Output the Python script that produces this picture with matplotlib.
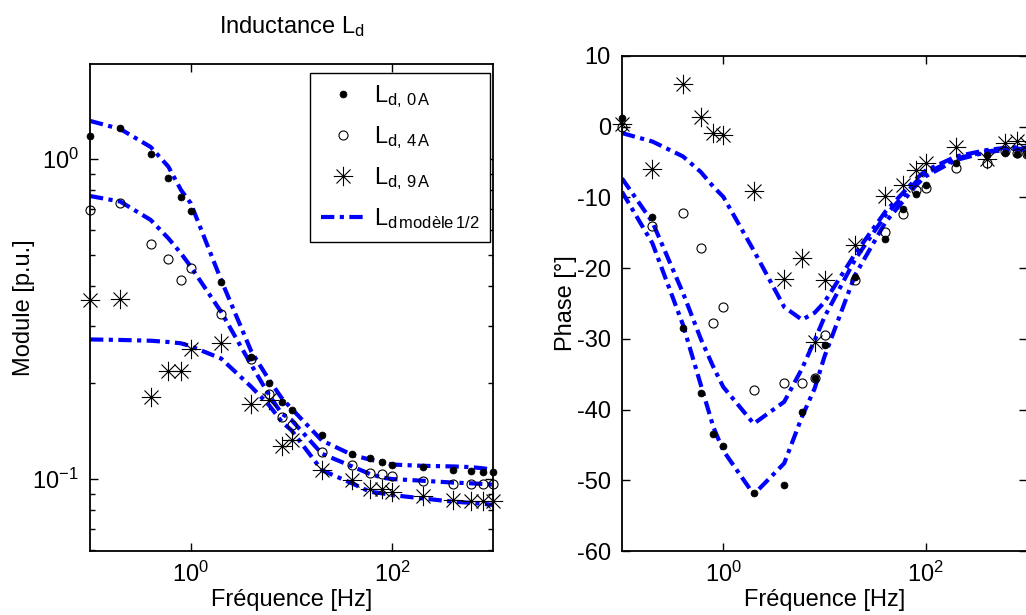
import matplotlib
matplotlib.use("Agg")
import matplotlib.pyplot as plt
from matplotlib.path import Path
from matplotlib.ticker import FixedLocator, FixedFormatter, LogLocator, NullFormatter

plt.rcParams['font.family'] = ['Liberation Sans', 'DejaVu Sans']
plt.rcParams['mathtext.fontset'] = 'custom'
plt.rcParams['mathtext.rm'] = 'Liberation Sans'
plt.rcParams['mathtext.it'] = 'Liberation Sans:italic'
plt.rcParams['mathtext.bf'] = 'Liberation Sans:bold'
plt.rcParams['axes.unicode_minus'] = False

# ---------------- data ----------------
freq = [0.1, 0.2, 0.4, 0.6, 0.8, 1, 2, 4, 6, 8, 10, 20, 40, 60, 80, 100, 200, 400, 600, 800, 1000]

# module [p.u.] measured
mod_0A = [1.18, 1.25, 1.04, 0.87, 0.76, 0.69, 0.414, 0.241, 0.200, 0.174, 0.164, 0.137,
          0.120, 0.116, 0.113, 0.111, 0.109, 0.107, 0.106, 0.105, 0.105]
mod_4A = [0.693, 0.727, 0.541, 0.487, 0.419, 0.455, 0.327, 0.238, 0.185, 0.156, 0.1475, 0.1217,
          0.1106, 0.1047, 0.1037, 0.102, 0.0988, 0.0965, 0.0965, 0.0965, 0.0965]
mod_9A = [0.363, 0.365, 0.181, 0.2176, 0.2176, 0.254, 0.267, 0.172, 0.177, 0.127, 0.132, 0.107,
          0.0993, 0.093, 0.0928, 0.0913, 0.0887, 0.0859, 0.0857, 0.0855, 0.0855]
# module model
mdl_mod_0A = [1.315, 1.24, 1.09, 0.946, 0.80, 0.727, 0.419, 0.25, 0.204, 0.179, 0.166, 0.132,
              0.119, 0.115, 0.113, 0.111, 0.110, 0.1095, 0.109, 0.108, 0.107]
mdl_mod_4A = [0.766, 0.736, 0.645, 0.565, 0.507, 0.461, 0.333, 0.227, 0.183, 0.160, 0.153, 0.120,
              0.1095, 0.1037, 0.101, 0.100, 0.0988, 0.0975, 0.097, 0.0965, 0.096]
mdl_mod_9A = [0.273, 0.272, 0.2705, 0.268, 0.2655, 0.260, 0.238, 0.194, 0.170, 0.151, 0.142, 0.1066,
              0.0969, 0.0913, 0.0902, 0.0891, 0.0870, 0.085, 0.0843, 0.0837, 0.083]

# phase [deg] measured
ph_0A = [1.3, -12.7, -28.4, -37.7, -43.5, -45.2, -51.8, -50.6, -40.4, -35.6, -30.9, -21.3,
         -15.9, -11.7, -9.5, -8.2, -5.2, -4.0, -3.7, -3.9, -3.8]
ph_4A = [0.0, -14.0, -12.2, -17.1, -27.7, -25.5, -37.3, -36.2, -36.2, -35.5, -29.4, -21.7,
         -14.9, -12.4, -9.0, -8.6, -5.9, -5.1, -3.5, -3.7, -3.8]
ph_9A = [0.4, -6.0, 6.0, 1.4, -0.85, -1.2, -9.1, -21.6, -18.5, -30.4, -21.7, -16.7,
         -9.8, -8.2, -6.1, -5.2, -2.8, -4.5, -2.3, -2.0, -2.5]
# phase model
mdl_ph_0A = [-9.2, -16.5, -28.0, -36.5, -42.5, -45.8, -52.0, -47.6, -41.0, -37.0, -32.5, -21.0,
             -13.5, -10.5, -8.3, -7.0, -4.7, -3.6, -3.3, -3.2, -3.3]
mdl_ph_4A = [-7.3, -13.5, -23.5, -30.0, -34.0, -36.8, -42.0, -38.9, -34.2, -30.2, -26.9, -18.8,
             -12.5, -9.8, -7.8, -6.6, -4.5, -3.5, -3.2, -3.1, -3.2]
mdl_ph_9A = [-0.9, -2.1, -4.2, -6.4, -8.5, -9.9, -17.5, -25.5, -27.3, -26.3, -24.8, -18.0,
             -12.0, -9.3, -7.4, -6.2, -4.2, -3.3, -3.0, -2.9, -3.0]

legend_labels = [r'L$_{\mathregular{d,\,0\,A}}$', r'L$_{\mathregular{d,\,4\,A}}$',
                 r'L$_{\mathregular{d,\,9\,A}}$', r'L$_{\mathregular{d\,modèle\,1/2}}$']

# ---------------- styles ----------------
FS = 17
star = Path([(-1, 0), (1, 0), (0, -1), (0, 1), (-0.72, -0.72), (0.72, 0.72), (-0.72, 0.72), (0.72, -0.72)],
            [Path.MOVETO, Path.LINETO] * 4)
BLUE = (0, 0, 1)
model_kw = dict(color=BLUE, lw=3.0, dashes=(3.2, 1.3, 1.0, 1.3))
dot_kw = dict(ls='none', marker='o', ms=5, mfc='k', mec='k', mew=0.5)
circ_kw = dict(ls='none', marker='o', ms=6.5, mfc='none', mec='k', mew=0.8)
star_kw = dict(ls='none', marker=star, ms=14, mfc='none', mec='k', mew=0.8)

fig = plt.figure(figsize=(10.26, 6.15), dpi=100)

def style_axes(ax):
    ax.tick_params(which='both', direction='in', top=True, right=True, labelsize=FS, width=1.0)
    ax.tick_params(which='major', length=6, pad=8)
    ax.tick_params(which='minor', length=3.5)
    for s in ax.spines.values():
        s.set_linewidth(1.3)
    ax.set_xscale('log')
    ax.set_xlim(0.1, 1000)
    ax.xaxis.set_major_locator(FixedLocator([1, 100]))
    ax.xaxis.set_major_formatter(FixedFormatter([r'$\mathregular{10^{0}}$', r'$\mathregular{10^{2}}$']))
    ax.xaxis.set_minor_locator(FixedLocator([]))

# ---------------- left: module ----------------
ax1 = fig.add_axes([90 / 1026, (615 - 551) / 615, 403 / 1026, 487 / 615])
l1, = ax1.plot(freq, mod_0A, **dot_kw, zorder=3, clip_on=False)
l2, = ax1.plot(freq, mod_4A, **circ_kw, zorder=3, clip_on=False)
l3, = ax1.plot(freq, mod_9A, **star_kw, zorder=3, clip_on=False)
l4, = ax1.plot(freq, mdl_mod_0A, **model_kw, zorder=2)
ax1.plot(freq, mdl_mod_4A, **model_kw, zorder=2)
ax1.plot(freq, mdl_mod_9A, **model_kw, zorder=2)
style_axes(ax1)
ax1.set_yscale('log')
ax1.set_ylim(0.0596, 1.98)
ax1.yaxis.set_major_locator(FixedLocator([0.1, 1]))
ax1.yaxis.set_major_formatter(FixedFormatter([r'$\mathregular{10^{-1}}$', r'$\mathregular{10^{0}}$']))
ax1.yaxis.set_minor_locator(LogLocator(base=10, subs=(2, 3, 4, 5, 6, 7, 8, 9)))
ax1.yaxis.set_minor_formatter(NullFormatter())
ax1.set_xlabel('Fréquence [Hz]', fontsize=FS, labelpad=1)
ax1.set_ylabel('Module [p.u.]', fontsize=FS, labelpad=-2)
ax1.set_title(r'Inductance L$_{\mathregular{d}}$', fontsize=FS, pad=22)
leg = ax1.legend([l1, l2, l3, l4], legend_labels, loc='upper right', bbox_to_anchor=(0.993, 0.982),
                 borderaxespad=0, fontsize=FS, frameon=True, fancybox=False, framealpha=1,
                 edgecolor='k', handlelength=1.9, handletextpad=0.35, labelspacing=0.6,
                 borderpad=0.45)
leg.get_frame().set_linewidth(1.0)

# ---------------- right: phase ----------------
ax2 = fig.add_axes([622 / 1026, (615 - 551) / 615, 405 / 1026, 495 / 615])
ax2.plot(freq, ph_0A, **dot_kw, zorder=3, clip_on=False)
ax2.plot(freq, ph_4A, **circ_kw, zorder=3, clip_on=False)
ax2.plot(freq, ph_9A, **star_kw, zorder=3, clip_on=False)
ax2.plot(freq, mdl_ph_0A, **model_kw, zorder=2)
ax2.plot(freq, mdl_ph_4A, **model_kw, zorder=2)
ax2.plot(freq, mdl_ph_9A, **model_kw, zorder=2)
style_axes(ax2)
ax2.set_ylim(-60, 10)
ax2.set_yticks(range(-60, 11, 10))
ax2.set_xlabel('Fréquence [Hz]', fontsize=FS, labelpad=1)
ax2.set_ylabel('Phase [°]', fontsize=FS, labelpad=0)

fig.savefig('out.png', dpi=100)
